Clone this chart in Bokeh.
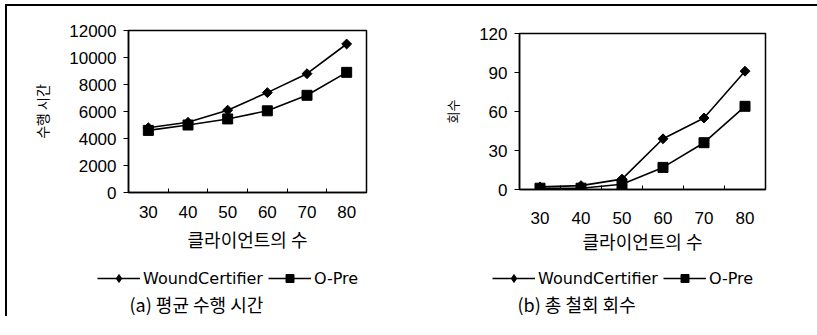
import math
from bokeh.plotting import figure
from bokeh.models import FixedTicker, Legend, LegendItem, Title, Range1d
from bokeh.layouts import row, column
from bokeh.embed import file_html
from bokeh.resources import INLINE

# ---- data ----
clients = [30, 40, 50, 60, 70, 80]
client_minor = [35, 45, 55, 65, 75]
time_wound = [4800, 5200, 6100, 7400, 8800, 11000]
time_opre = [4600, 5000, 5450, 6050, 7200, 8900]
abort_wound = [2, 3, 8, 39, 55, 91]
abort_opre = [1, 1, 4, 17, 36, 64]
time_ticks = [0, 2000, 4000, 6000, 8000, 10000, 12000]
abort_ticks = [0, 30, 60, 90, 120]
series_names = ["WoundCertifier", "O-Pre"]
x_title = "클라이언트의 수"
y_title_a = "수행 시간"
y_title_b = "회수"
caption_a = "(a) 평균 수행 시간"
caption_b = "(b) 총 철회 회수"

KR = "Noto Sans CJK KR"
NUM = "Liberation Sans"


def add_series(p, ys1, ys2, legend_glyphs=False):
    l1 = p.line(clients, ys1, line_color="black", line_width=1.6)
    if legend_glyphs:
        m1 = p.scatter(clients, ys1, marker="diamond", size=12,
                       fill_color="black", line_color="black")
    else:
        m1 = p.scatter(clients, ys1, marker="square", angle=math.pi / 4, size=7,
                       fill_color="black", line_color="black")
    l2 = p.line(clients, ys2, line_color="black", line_width=1.6)
    m2 = p.scatter(clients, ys2, marker="square", size=10, fill_color="black", line_color="black")
    return l1, m1, l2, m2


def chart(ys1, ys2, yticks, ytitle, fw, fh, left, right, top, bottom,
          xstand, xlabstand, ylabstand, ytitle_size):
    p = figure(frame_width=fw, frame_height=fh, output_backend="svg", toolbar_location=None,
               x_range=Range1d(25, 85), y_range=Range1d(yticks[0], yticks[-1]),
               min_border_left=left, min_border_right=right,
               min_border_top=top, min_border_bottom=bottom)
    p.grid.visible = False
    p.outline_line_color = "black"
    p.outline_line_width = 1.5
    p.background_fill_color = "white"
    p.border_fill_color = "white"

    xa = p.xaxis[0]
    xa.ticker = FixedTicker(ticks=clients, minor_ticks=client_minor)
    xa.major_tick_in = 0
    xa.major_tick_out = 0
    xa.minor_tick_in = 4
    xa.minor_tick_out = 0
    xa.axis_line_width = 1.5
    xa.major_label_standoff = xstand
    xa.major_label_text_font = NUM
    xa.major_label_text_font_size = "17px"
    xa.major_label_text_color = "black"
    xa.axis_label = x_title
    xa.axis_label_text_font = KR
    xa.axis_label_text_font_size = "18px"
    xa.axis_label_text_font_style = "normal"
    xa.axis_label_text_color = "black"
    xa.axis_label_standoff = xlabstand

    ya = p.yaxis[0]
    ya.ticker = FixedTicker(ticks=yticks)
    ya.major_tick_in = 0
    ya.major_tick_out = 5
    ya.minor_tick_in = 0
    ya.minor_tick_out = 0
    ya.axis_line_width = 1.5
    ya.major_label_standoff = 7
    ya.major_label_text_font = NUM
    ya.major_label_text_font_size = "17px"
    ya.major_label_text_color = "black"
    ya.axis_label = ytitle
    ya.axis_label_text_font = KR
    ya.axis_label_text_font_size = ytitle_size
    ya.axis_label_text_font_style = "normal"
    ya.axis_label_text_color = "black"
    ya.axis_label_standoff = ylabstand

    add_series(p, ys1, ys2)
    return p


def legend_strip(ys1, ys2, caption, width, fh, leg_loc, cap_offset):
    # strip below the chart holding the legend and the caption
    q = figure(frame_width=width, frame_height=fh, output_backend="svg", toolbar_location=None,
               x_range=Range1d(0, 1), y_range=Range1d(0, 1),
               x_axis_type=None, y_axis_type=None, title_location=None,
               min_border_left=0, min_border_right=0, min_border_top=0, min_border_bottom=0)
    q.outline_line_color = None
    q.background_fill_color = "white"
    q.border_fill_color = "white"
    # series lie outside the strip's view; they only supply the legend glyphs
    l1, m1, l2, m2 = add_series(q, ys1, ys2, legend_glyphs=True)
    leg = Legend(items=[LegendItem(label=series_names[0], renderers=[l1, m1]),
                        LegendItem(label=series_names[1], renderers=[l2, m2])],
                 location=leg_loc, orientation="horizontal", padding=0, margin=0,
                 spacing=5, glyph_width=43, glyph_height=20, label_standoff=3,
                 border_line_color=None, background_fill_alpha=0,
                 label_text_font="DejaVu Sans", label_text_font_size="16px",
                 label_text_color="black")
    q.add_layout(leg)
    cap = Title(text=caption, align="left", offset=cap_offset, standoff=0,
                text_font=KR, text_font_size="18px", text_font_style="normal",
                text_color="black")
    q.add_layout(cap, "below")
    return q


pa = chart(time_wound, time_opre, time_ticks, y_title_a,
           fw=238, fh=162, left=121, right=42, top=24, bottom=68,
           xstand=13, xlabstand=5, ylabstand=14, ytitle_size="14px")
pb = chart(abort_wound, abort_opre, abort_ticks, y_title_b,
           fw=246, fh=156, left=111, right=52, top=27, bottom=71,
           xstand=22, xlabstand=1, ylabstand=14, ytitle_size="13px")
la = legend_strip(time_wound, time_opre, caption_a, 401, 28, (90, 0), 1)
lb = legend_strip(abort_wound, abort_opre, caption_b, 409, 28, (84, 0), -2)

layout = row(column(pa, la), column(pb, lb),
             styles={"margin-top": "4px", "margin-left": "5px",
                     "border-top": "2px solid black", "border-left": "2px solid black"})

open("out.html", "w").write(file_html(layout, INLINE))
